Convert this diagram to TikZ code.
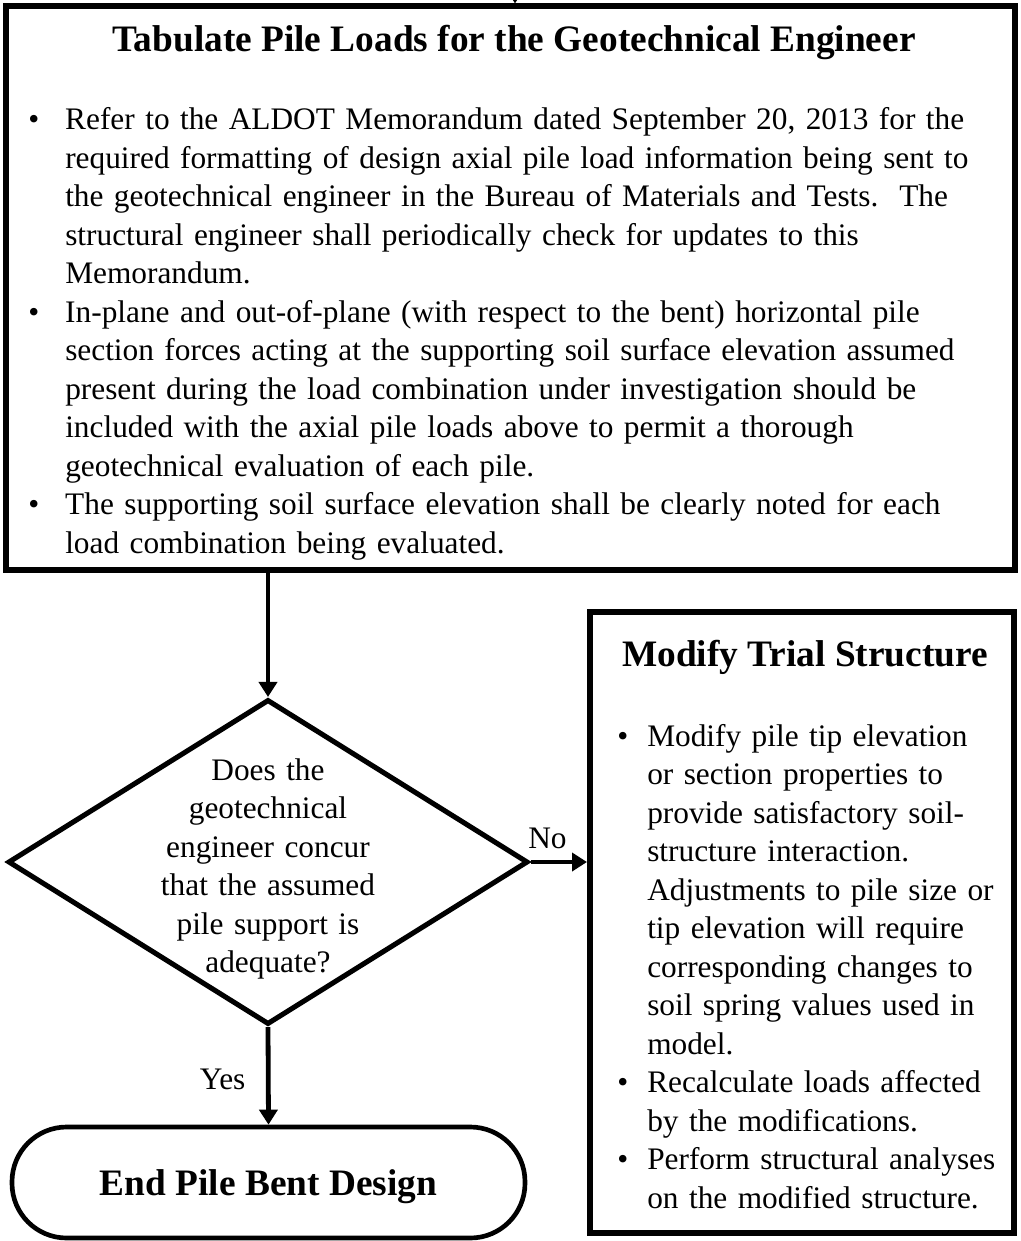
\documentclass[tikz,border=0pt]{standalone}
\usepackage{fontspec}
\setmainfont{Liberation Serif}
\usetikzlibrary{positioning,arrows.meta,shapes.geometric}

% one bulleted paragraph with a hanging indent; lines are broken by hand
\newcommand{\bpara}[2]{\par\noindent\rightskip=0pt plus 1fil\relax
  \hangindent=#1\hangafter=1\makebox[#1][l]{\textbullet}#2\par}

\begin{document}
\begin{tikzpicture}[x=0.75pt, y=-0.75pt,
  every node/.style={font=\fontsize{23.5}{28.875}\selectfont},
  block/.style={draw, line width=4.5pt, rectangle, inner sep=0pt},
  heading/.style={font=\fontsize{28}{33}\selectfont\bfseries, inner sep=0pt, anchor=base},
  bullets/.style={inner sep=0pt, anchor=base west},
  decision/.style={draw, line width=3.8pt, diamond, inner sep=0pt, minimum width=390pt, minimum height=243.75pt},
  terminal/.style={draw, line width=3.5pt, rounded corners=41pt, minimum width=384.75pt, minimum height=83.25pt,
    text depth=0pt, font=\fontsize{28}{33}\selectfont\bfseries},
  flow/.style={line width=3.6pt, -{Triangle[length=11.25pt, width=13.5pt]}}
]
\fill[white] (0,0) rectangle (1020,1241);
\useasboundingbox (0,0) rectangle (1020,1241);

% top block: pile loads
\node[block, minimum width=756.75pt, minimum height=422.25pt] (tab) at (510.5,288) {};
\node[heading] (tabtitle) at (514,52) {Tabulate Pile Loads for the Geotechnical Engineer};
\node[bullets, text width=735pt] (tablist) at (28,91.5) {%
  \bpara{27.75pt}{Refer to the ALDOT Memorandum dated September 20, 2013 for the\newline
    required formatting of design axial pile load information being sent to\newline
    the geotechnical engineer in the Bureau of Materials and Tests.\ \ The\newline
    structural engineer shall periodically check for updates to this\newline
    Memorandum.}
  \bpara{27.75pt}{In-plane and out-of-plane (with respect to the bent) horizontal pile\newline
    section forces acting at the supporting soil surface elevation assumed\newline
    present during the load combination under investigation should be\newline
    included with the axial pile loads above to permit a thorough\newline
    geotechnical evaluation of each pile.}
  \bpara{27.75pt}{The supporting soil surface elevation shall be clearly noted for each\newline
    load combination being evaluated.}};

% right block: modify trial structure
\node[block, minimum width=318pt, minimum height=465.75pt] (mod) at (802,922.5) {};
\node[heading] (modtitle) at (805,666) {Modify Trial Structure};
\node[bullets, text width=300pt] (modlist) at (617,707.5) {%
  \bpara{22.5pt}{Modify pile tip elevation\newline
    or section properties to\newline
    provide satisfactory soil-\newline
    structure interaction.\newline
    Adjustments to pile size or\newline
    tip elevation will require\newline
    corresponding changes to\newline
    soil spring values used in\newline
    model.}
  \bpara{22.5pt}{Recalculate loads affected\newline
    by the modifications.}
  \bpara{22.5pt}{Perform structural analyses\newline
    on the modified structure.}};

% decision and end
\node[decision] (dec) at (268,862) {};
\node[text width=220pt, align=center, inner sep=0pt, anchor=base] (dectext) at (268,780) {Does the\\ geotechnical\\ engineer concur\\ that the assumed\\ pile support is\\ adequate?};
\node[terminal] (stop) at (268.5,1182.5) {End Pile Bent Design};

% connectors
\coordinate (entry) at (515,-40);
\draw[flow] (entry) -- (entry |- tab.north);
\draw[flow] (dec.north |- tab.south) -- (dec.north);
\draw[flow] (dec.east) -- (dec.east -| mod.west) node[pos=0.3, above=5pt] (nolbl) {No};
\draw[flow] (dec.south) -- (stop.north) node[midway, left=12pt, yshift=-3pt] (yeslbl) {Yes};
\end{tikzpicture}
\end{document}
